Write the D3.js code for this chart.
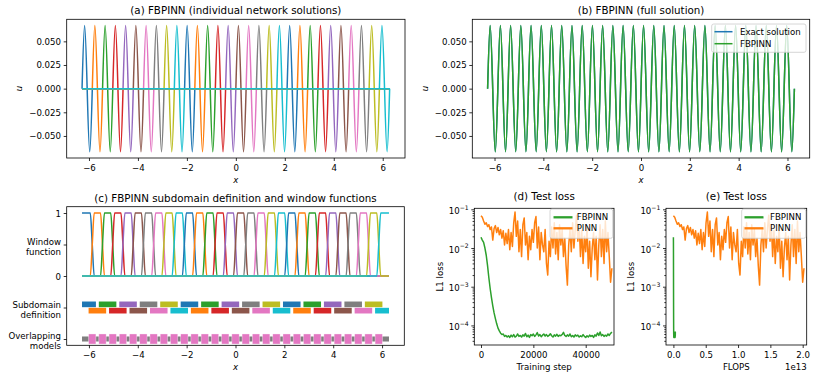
<!DOCTYPE html>
<html><head><meta charset="utf-8">
<script src="https://cdn.jsdelivr.net/npm/d3@7/dist/d3.min.js"></script>
<style>
html,body{margin:0;padding:0;background:#fff;}
svg{display:block;}
</style></head><body>
<svg id="fig" width="817" height="379" xmlns="http://www.w3.org/2000/svg"></svg>
<script>
// ---------------- DATA ----------------
const tab10 = ["#1f77b4","#ff7f0e","#2ca02c","#d62728","#9467bd","#8c564b","#e377c2","#7f7f7f","#bcbd22","#17becf"];
const windowColors = ["#1f77b4","#ff7f0e","#2ca02c","#d62728","#9467bd","#8c564b","#7f7f7f","#e377c2","#bcbd22","#17becf"];

const xTickValues = [-6,-4,-2,0,2,4,6];
const uTickValues = [0.05,0.025,0,-0.025,-0.05];
const cTickValues = [1,0.5,0,-0.5,-1];
const cTickLabels = [["1"],["Window","function"],["0"],["Subdomain","definition"],["Overlapping","models"]];
const stepTickValues = [0,20000,40000];
const flopsTickValues = [0,0.5e13,1e13,1.5e13,2e13];
const lossTickValues = [1e-1,1e-2,1e-3,1e-4];

const solutionX = [
-6.283,-6.178,-6.074,-5.969,-5.864,-5.760,-5.655,-5.550,-5.445,-5.341,
-5.236,-5.131,-5.027,-4.922,-4.817,-4.712,-4.608,-4.503,-4.398,-4.294,
-4.189,-4.084,-3.980,-3.875,-3.770,-3.665,-3.561,-3.456,-3.351,-3.247,
-3.142,-3.037,-2.932,-2.828,-2.723,-2.618,-2.513,-2.409,-2.304,-2.199,
-2.094,-1.990,-1.885,-1.780,-1.676,-1.571,-1.466,-1.361,-1.257,-1.152,
-1.047,-0.942,-0.838,-0.733,-0.628,-0.524,-0.419,-0.314,-0.209,-0.105,
0,
0.105,0.209,0.314,0.419,0.524,0.628,0.733,0.838,0.942,1.047,
1.152,1.257,1.361,1.466,1.571,1.676,1.780,1.885,1.990,2.094,
2.199,2.304,2.409,2.513,2.618,2.723,2.828,2.932,3.037,3.142,
3.247,3.351,3.456,3.561,3.665,3.770,3.875,3.980,4.084,4.189,
4.294,4.398,4.503,4.608,4.712,4.817,4.922,5.027,5.131,5.236,
5.341,5.445,5.550,5.655,5.760,5.864,5.969,6.074,6.178,6.283];
const exactU = [
0,0.0667,0,-0.0667, 0,0.0667,0,-0.0667, 0,0.0667,0,-0.0667, 0,0.0667,0,-0.0667, 0,0.0667,0,-0.0667,
0,0.0667,0,-0.0667, 0,0.0667,0,-0.0667, 0,0.0667,0,-0.0667, 0,0.0667,0,-0.0667, 0,0.0667,0,-0.0667,
0,0.0667,0,-0.0667, 0,0.0667,0,-0.0667, 0,0.0667,0,-0.0667, 0,0.0667,0,-0.0667, 0,0.0667,0,-0.0667,
0,0.0667,0,-0.0667, 0,0.0667,0,-0.0667, 0,0.0667,0,-0.0667, 0,0.0667,0,-0.0667, 0,0.0667,0,-0.0667,
0,0.0667,0,-0.0667, 0,0.0667,0,-0.0667, 0,0.0667,0,-0.0667, 0,0.0667,0,-0.0667, 0,0.0667,0,-0.0667,
0,0.0667,0,-0.0667, 0,0.0667,0,-0.0667, 0,0.0667,0,-0.0667, 0,0.0667,0,-0.0667, 0,0.0667,0,-0.0667,
0];
const fbpinnU = exactU; // FBPINN solution is indistinguishable from the exact one

const subdomainEdges = [-6.283,-5.864,-5.445,-5.027,-4.608,-4.189,-3.770,-3.351,-2.932,-2.513,-2.094,
 -1.676,-1.257,-0.838,-0.419,0,0.419,0.838,1.257,1.676,2.094,2.513,2.932,3.351,3.770,4.189,
 4.608,5.027,5.445,5.864,6.283];
const subdomainOverlap = 0.15;
const windowRamp = 0.08;

const trainingSteps = [
0,500,1000,1500,2000,2500,3000,3500,4000,4500,5000,5500,6000,6500,7000,7500,8000,8500,9000,9500,
10000,10500,11000,11500,12000,12500,13000,13500,14000,14500,15000,15500,16000,16500,17000,17500,18000,18500,19000,19500,
20000,20500,21000,21500,22000,22500,23000,23500,24000,24500,25000,25500,26000,26500,27000,27500,28000,28500,29000,29500,
30000,30500,31000,31500,32000,32500,33000,33500,34000,34500,35000,35500,36000,36500,37000,37500,38000,38500,39000,39500,
40000,40500,41000,41500,42000,42500,43000,43500,44000,44500,45000,45500,46000,46500,47000,47500,48000,48500,49000,49500,50000];
const fbpinnLoss = [
0.019,0.016,0.014,0.010,0.0065,0.0035,0.0017,0.0009,0.00052,0.00032,0.00021,0.00015,0.00011,0.000085,0.000072,0.000063,0.000058,0.000060,0.000052,0.000055,
0.000050,0.000054,0.000049,0.000056,0.000051,0.000058,0.000050,0.000053,0.000060,0.000052,0.000055,0.000050,0.000057,0.000053,0.000062,0.000051,0.000056,0.000049,0.000058,0.000054,
0.000060,0.000052,0.000057,0.000065,0.000053,0.000058,0.000051,0.000056,0.000060,0.000053,0.000058,0.000052,0.000055,0.000061,0.000054,0.000050,0.000057,0.000053,0.000059,0.000052,
0.000056,0.000054,0.000058,0.000066,0.000055,0.000052,0.000057,0.000053,0.000060,0.000051,0.000055,0.000050,0.000057,0.000053,0.000056,0.000050,0.000054,0.000051,0.000058,0.000052,
0.000049,0.000054,0.000050,0.000056,0.000052,0.000055,0.000049,0.000057,0.000053,0.000064,0.000055,0.000068,0.000054,0.000058,0.000052,0.000056,0.000053,0.000060,0.000055,0.000062,0.000068];
const pinnLoss = [
0.068,0.062,0.050,0.041,0.045,0.036,0.040,0.030,0.035,0.016,0.032,0.038,0.025,0.034,0.022,0.030,0.018,0.028,0.012,0.024,
0.013,0.030,0.009,0.025,0.011,0.045,0.085,0.020,0.050,0.008,0.030,0.006,0.040,0.060,0.012,0.025,0.005,0.020,0.009,0.030,
0.014,0.045,0.065,0.010,0.035,0.005,0.025,0.012,0.008,0.030,0.004,0.002,0.015,0.006,0.035,0.010,0.045,0.007,0.025,0.005,
0.040,0.012,0.030,0.006,0.018,0.0035,0.0011,0.012,0.030,0.008,0.045,0.010,0.030,0.070,0.015,0.040,0.006,0.028,0.004,0.020,
0.008,0.035,0.003,0.015,0.0018,0.010,0.025,0.005,0.020,0.0015,0.012,0.040,0.006,0.030,0.004,0.050,0.008,0.025,0.006,0.0013,0.003];
const fbpinnTotalFlops = 0.03e13;
const pinnTotalFlops = 2.02e13;

// ---------------- LAYOUT ----------------
const FONT = "DejaVu Sans, sans-serif";
const TICK_FS = 8.6, TITLE_FS = 10.3;
const LW = 1.5;
const A = {l:66.7, t:19.3, r:405, b:158};
const B = {l:472.3, t:19.3, r:809.7, b:158};
const C = {l:66.7, t:206.7, r:404.3, b:345.3};
const D = {l:474.3, t:208.3, r:614, b:345};
const E = {l:666, t:208.3, r:806.7, b:345};

const svg = d3.select("#fig");
svg.append("rect").attr("width",817).attr("height",379).attr("fill","#fff");
const defs = svg.append("defs");

function makePanel(id, box){
  defs.append("clipPath").attr("id", id).append("rect")
    .attr("x", box.l).attr("y", box.t).attr("width", box.r-box.l).attr("height", box.b-box.t);
  const g = svg.append("g");
  const plot = g.append("g").attr("clip-path", `url(#${id})`);
  return {g, plot};
}
function frame(g, box){
  g.append("rect").attr("x",box.l).attr("y",box.t).attr("width",box.r-box.l).attr("height",box.b-box.t)
    .attr("fill","none").attr("stroke","#000").attr("stroke-width",0.8);
}
function styleAxis(sel){
  sel.attr("font-family", FONT).attr("font-size", TICK_FS);
  sel.select(".domain").remove();
  sel.selectAll(".tick line").attr("stroke","#000").attr("stroke-width",0.8);
  sel.selectAll(".tick text").attr("fill","#000");
}
function xAxis(g, box, x, ticks, fmt){
  g.append("g").attr("transform",`translate(0,${box.b})`)
    .call(d3.axisBottom(x).tickValues(ticks).tickFormat(fmt).tickSize(3).tickPadding(4).tickSizeOuter(0))
    .call(styleAxis);
}
function yAxis(g, box, y, ticks, fmt){
  return g.append("g").attr("transform",`translate(${box.l},0)`)
    .call(d3.axisLeft(y).tickValues(ticks).tickFormat(fmt).tickSize(3).tickPadding(2.7).tickSizeOuter(0))
    .call(styleAxis);
}
function title(g, box, txt, baseline){
  g.append("text").attr("x",(box.l+box.r)/2).attr("y",baseline).attr("text-anchor","middle")
    .attr("font-family",FONT).attr("font-size",TITLE_FS).attr("fill","#000").text(txt);
}
function label(g, x, y, txt, opts={}){
  const t = g.append("text").attr("font-family",FONT).attr("font-size",TICK_FS).attr("fill","#000")
    .attr("text-anchor", opts.anchor || "middle").text(txt);
  if (opts.italic) t.attr("font-style","italic");
  if (opts.rotate) t.attr("transform",`translate(${x},${y}) rotate(-90)`);
  else t.attr("x",x).attr("y",y);
  return t;
}
function legend(g, bx, by, bw, bh, items, hx1, hx2, tx, lw){
  g.append("rect").attr("x",bx).attr("y",by).attr("width",bw).attr("height",bh).attr("rx",2)
    .attr("fill","#fff").attr("fill-opacity",0.8).attr("stroke","#cccccc").attr("stroke-width",0.8);
  items.forEach(it=>{
    g.append("line").attr("x1",hx1).attr("x2",hx2).attr("y1",it.y).attr("y2",it.y)
      .attr("stroke",it.color).attr("stroke-width",lw);
    g.append("text").attr("x",tx).attr("y",it.y+3.1).attr("font-family",FONT).attr("font-size",TICK_FS)
      .attr("fill","#000").text(it.label);
  });
}

const fmtInt = d3.format("d");
const fmtU = d3.format(".3f");
const solPts = solutionX.map((x,i)=>[x, exactU[i]]);
const fbPts = solutionX.map((x,i)=>[x, fbpinnU[i]]);
const xMin = solutionX[0], xMax = solutionX[solutionX.length-1];

// ---------------- PANEL A ----------------
{
  const {g, plot} = makePanel("clipA", A);
  const x = d3.scaleLinear().domain([-6.91,6.91]).range([A.l,A.r]);
  const y = d3.scaleLinear().domain([-0.0733,0.0733]).range([A.b,A.t]);
  const lineNat = d3.line().x(d=>x(d[0])).y(d=>y(d[1])).curve(d3.curveNatural);
  const lineLin = d3.line().x(d=>x(d[0])).y(d=>y(d[1]));
  for (let k=0;k<30;k++){
    const col = tab10[k%10];
    const gg = plot.append("g");
    gg.append("path").attr("d", lineLin([[xMin,0],[xMax,0]])).attr("fill","none").attr("stroke",col).attr("stroke-width",LW);
    gg.append("path").attr("d", lineNat(solPts.slice(4*k,4*k+5))).attr("fill","none").attr("stroke",col).attr("stroke-width",LW);
  }
  frame(g, A);
  xAxis(g, A, x, xTickValues, fmtInt);
  yAxis(g, A, y, uTickValues, fmtU);
  title(g, A, "(a) FBPINN (individual network solutions)", 14);
  label(g, (A.l+A.r)/2, 183.3, "x", {italic:true});
  label(g, 22, (A.t+A.b)/2, "u", {italic:true, rotate:true});
}

// ---------------- PANEL B ----------------
{
  const {g, plot} = makePanel("clipB", B);
  const x = d3.scaleLinear().domain([-6.91,6.91]).range([B.l,B.r]);
  const y = d3.scaleLinear().domain([-0.0733,0.0733]).range([B.b,B.t]);
  const lineNat = d3.line().x(d=>x(d[0])).y(d=>y(d[1])).curve(d3.curveNatural);
  plot.append("path").attr("d", lineNat(solPts)).attr("fill","none").attr("stroke",tab10[0]).attr("stroke-width",LW);
  plot.append("path").attr("d", lineNat(fbPts)).attr("fill","none").attr("stroke",tab10[2]).attr("stroke-width",LW);
  frame(g, B);
  xAxis(g, B, x, xTickValues, fmtInt);
  yAxis(g, B, y, uTickValues, fmtU);
  title(g, B, "(b) FBPINN (full solution)", 14);
  label(g, (B.l+B.r)/2, 183.3, "x", {italic:true});
  label(g, 428.3, (B.t+B.b)/2, "u", {italic:true, rotate:true});
  legend(g, 711.7, 24, 94.3, 28.3,
    [{label:"Exact solution", color:tab10[0], y:31.7},{label:"FBPINN", color:tab10[2], y:43.7}],
    714.5, 732.5, 740, 1.5);
}

// ---------------- PANEL C ----------------
{
  const {g, plot} = makePanel("clipC", C);
  const x = d3.scaleLinear().domain([-6.91,6.91]).range([C.l,C.r]);
  const y = d3.scaleLinear().domain([-1.1,1.1]).range([C.b,C.t]);
  const lineMono = d3.line().x(d=>x(d[0])).y(d=>y(d[1])).curve(d3.curveMonotoneX);
  const nSub = subdomainEdges.length-1;
  // window functions
  for (let k=0;k<nSub;k++){
    const a = subdomainEdges[k], b = subdomainEdges[k+1];
    let pts = [];
    if (k===0) pts.push([xMin,1]);
    else pts.push([xMin,0],[a-windowRamp,0],[a,0.5],[a+windowRamp,1]);
    if (k===nSub-1) pts.push([xMax,1]);
    else pts.push([b-windowRamp,1],[b,0.5],[b+windowRamp,0],[xMax,0]);
    plot.append("path").attr("d", lineMono(pts)).attr("fill","none")
      .attr("stroke",windowColors[k%10]).attr("stroke-width",LW);
  }
  // subdomain definition
  const barH = y(0) - y(0.09);
  for (let k=0;k<nSub;k++){
    const lo = Math.max(subdomainEdges[k]-subdomainOverlap, xMin);
    const hi = Math.min(subdomainEdges[k+1]+subdomainOverlap, xMax);
    const yc = k%2===0 ? -0.45 : -0.55;
    plot.append("rect").attr("x",x(lo)).attr("width",x(hi)-x(lo))
      .attr("y",y(yc)-barH/2).attr("height",barH)
      .attr("fill",windowColors[k%10]);
  }
  // overlapping models
  const grayH = y(0)-y(0.08), pinkH = y(0)-y(0.16);
  plot.append("rect").attr("x",x(xMin)).attr("width",x(xMax)-x(xMin))
    .attr("y",y(-1)-grayH/2).attr("height",grayH).attr("fill",tab10[7]);
  for (let j=1;j<nSub;j++){
    const lo = subdomainEdges[j]-subdomainOverlap, hi = subdomainEdges[j]+subdomainOverlap;
    plot.append("rect").attr("x",x(lo)).attr("width",x(hi)-x(lo))
      .attr("y",y(-1)-pinkH/2).attr("height",pinkH).attr("fill",tab10[6])
      .attr("stroke","#fff").attr("stroke-opacity",0.6).attr("stroke-width",0.6);
  }
  frame(g, C);
  xAxis(g, C, x, xTickValues, fmtInt);
  const ya = yAxis(g, C, y, cTickValues, ()=>"");
  ya.selectAll(".tick").each(function(d,i){
    const t = d3.select(this).select("text");
    t.attr("dy", null).text(null);
    const lines = cTickLabels[i];
    if (lines.length===1){
      t.attr("y",3);
      t.append("tspan").text(lines[0]);
    } else {
      t.attr("y",0);
      t.append("tspan").attr("x",t.attr("x")).attr("y",-0.2).text(lines[0]);
      t.append("tspan").attr("x",t.attr("x")).attr("y",9.9).text(lines[1]);
    }
  });
  title(g, C, "(c) FBPINN subdomain definition and window functions", 202);
  label(g, (C.l+C.r)/2, 370, "x", {italic:true});
}

// ---------------- PANELS D, E ----------------
function minorLogTicks(){
  const v=[];
  for (let e=-5;e<=-1;e++) for (let m=2;m<=9;m++){ const t=m*Math.pow(10,e); if (t>3.12e-5 && t<0.106) v.push(t); }
  return v;
}
function logYAxis(g, box, y){
  g.append("g").attr("transform",`translate(${box.l},0)`)
    .call(d3.axisLeft(y).tickValues(minorLogTicks()).tickFormat(()=>"").tickSize(1.7).tickSizeOuter(0))
    .call(styleAxis);
  const ya = yAxis(g, box, y, lossTickValues, ()=>"");
  ya.selectAll(".tick").each(function(d){
    const t = d3.select(this).select("text");
    t.attr("dy", null).attr("y", 4).text(null);
    t.append("tspan").text("10");
    t.append("tspan").attr("dy",-4.3).attr("font-size",6.1).text("\u2212"+Math.round(-Math.log10(d)));
  });
}
const lossDomain = [Math.pow(10,-4.506), Math.pow(10,-0.974)];

{
  const {g, plot} = makePanel("clipD", D);
  const x = d3.scaleLinear().domain([-2560,50810]).range([D.l,D.r]);
  const y = d3.scaleLog().domain(lossDomain).range([D.b,D.t]);
  const line = d3.line().x(d=>x(d[0])).y(d=>y(d[1]));
  plot.append("path").attr("d", line(trainingSteps.map((s,i)=>[s,fbpinnLoss[i]])))
    .attr("fill","none").attr("stroke",tab10[2]).attr("stroke-width",1.5).attr("stroke-linejoin","round");
  plot.append("path").attr("d", line(trainingSteps.map((s,i)=>[s,pinnLoss[i]])))
    .attr("fill","none").attr("stroke",tab10[1]).attr("stroke-width",1.5).attr("stroke-linejoin","round");
  frame(g, D);
  xAxis(g, D, x, stepTickValues, fmtInt);
  logYAxis(g, D, y);
  title(g, D, "(d) Test loss", 199.8);
  label(g, (D.l+D.r)/2, 370.3, "Training step");
  label(g, 443.3, (D.t+D.b)/2, "L1 loss", {rotate:true});
  legend(g, 550, 209, 62.7, 29.3,
    [{label:"FBPINN", color:tab10[2], y:217.3},{label:"PINN", color:tab10[1], y:228.3}],
    553.5, 572.5, 576.7, 2.3);
}
{
  const {g, plot} = makePanel("clipE", E);
  const x = d3.scaleLinear().domain([-0.1145e13,2.062e13]).range([E.l,E.r]);
  const y = d3.scaleLog().domain(lossDomain).range([E.b,E.t]);
  const line = d3.line().x(d=>x(d[0])).y(d=>y(d[1]));
  const lastStep = trainingSteps[trainingSteps.length-1];
  plot.append("path").attr("d", line(trainingSteps.map((s,i)=>[s/lastStep*fbpinnTotalFlops,fbpinnLoss[i]])))
    .attr("fill","none").attr("stroke",tab10[2]).attr("stroke-width",1.5).attr("stroke-linejoin","round");
  plot.append("path").attr("d", line(trainingSteps.map((s,i)=>[s/lastStep*pinnTotalFlops,pinnLoss[i]])))
    .attr("fill","none").attr("stroke",tab10[1]).attr("stroke-width",1.5).attr("stroke-linejoin","round");
  frame(g, E);
  xAxis(g, E, x, flopsTickValues, v=>d3.format(".1f")(v/1e13));
  logYAxis(g, E, y);
  title(g, E, "(e) Test loss", 199.8);
  label(g, (E.l+E.r)/2, 370.3, "FLOPS");
  label(g, E.r, 370, "1e13", {anchor:"end"});
  label(g, 634, (E.t+E.b)/2, "L1 loss", {rotate:true});
  legend(g, 741.7, 209, 64, 29.3,
    [{label:"FBPINN", color:tab10[2], y:217.3},{label:"PINN", color:tab10[1], y:228.3}],
    744.5, 763.5, 770, 2.3);
}
</script>
</body></html>
